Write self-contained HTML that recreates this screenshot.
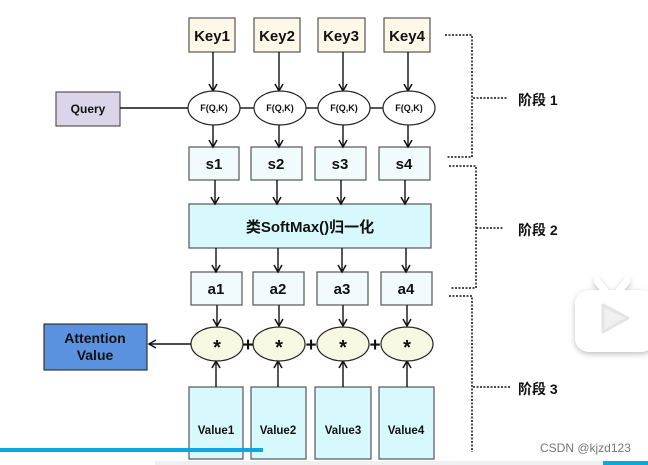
<!DOCTYPE html>
<html><head><meta charset="utf-8"><style>
html,body{margin:0;padding:0;background:#fff;}
svg{display:block;font-family:"Liberation Sans","Noto Sans CJK SC",sans-serif;font-weight:bold;}
</style></head><body>
<svg width="648" height="465" viewBox="0 0 648 465" xmlns="http://www.w3.org/2000/svg">
<defs>
<marker id="ar" markerWidth="10" markerHeight="10" refX="8" refY="5" orient="auto" markerUnits="userSpaceOnUse">
<path d="M1,1 L8,5 L1,9" fill="none" stroke="#111" stroke-width="1.5"/>
</marker>
<filter id="sh"><feDropShadow dx="0" dy="2" stdDeviation="3" flood-color="#000" flood-opacity="0.25"/></filter>
</defs>
<g stroke="#555" stroke-width="1.2">
<!-- keys -->
<rect x="189" y="18" width="46" height="34" fill="#fdf8e8"/>
<rect x="254" y="18" width="46" height="34" fill="#fdf8e8"/>
<rect x="318" y="18" width="47" height="34" fill="#fdf8e8"/>
<rect x="384" y="18" width="46" height="34" fill="#fdf8e8"/>
<!-- query -->
<rect x="56" y="92" width="64" height="34" fill="#dcd5ea"/>
<!-- s -->
<rect x="189" y="147" width="50" height="33" fill="#f1fbfe"/>
<rect x="251" y="147" width="51" height="33" fill="#f1fbfe"/>
<rect x="315" y="147" width="51" height="33" fill="#f1fbfe"/>
<rect x="379" y="147" width="51" height="33" fill="#f1fbfe"/>
<rect x="189" y="204" width="242" height="44" fill="#d7f8fd"/>
<rect x="191" y="272" width="51" height="33" fill="#f1fbfe"/>
<rect x="253" y="272" width="51" height="33" fill="#f1fbfe"/>
<rect x="317" y="272" width="51" height="33" fill="#f1fbfe"/>
<rect x="381" y="272" width="51" height="33" fill="#f1fbfe"/>
<rect x="44" y="324" width="103" height="46" fill="#5a92e0" stroke="#333"/>
<rect x="189" y="387" width="54" height="72" fill="#d7f8fd"/>
<rect x="251" y="387" width="55" height="72" fill="#d7f8fd"/>
<rect x="315" y="387" width="56" height="72" fill="#d7f8fd"/>
<rect x="379" y="387" width="55" height="72" fill="#d7f8fd"/>
</g>
<g stroke="#111" stroke-width="1.4" fill="none">
<line x1="120" y1="108" x2="188" y2="108"/>
<line x1="240" y1="108" x2="254" y2="108"/>
<line x1="306" y1="108" x2="318" y2="108"/>
<line x1="370" y1="108" x2="383" y2="108"/>
<!-- key->F -->
<line x1="213" y1="52" x2="213" y2="91" marker-end="url(#ar)"/>
<line x1="279" y1="52" x2="279" y2="91" marker-end="url(#ar)"/>
<line x1="343" y1="52" x2="343" y2="91" marker-end="url(#ar)"/>
<line x1="408" y1="52" x2="408" y2="91" marker-end="url(#ar)"/>
<line x1="213" y1="125" x2="213" y2="147" marker-end="url(#ar)"/>
<line x1="279" y1="125" x2="279" y2="147" marker-end="url(#ar)"/>
<line x1="343" y1="125" x2="343" y2="147" marker-end="url(#ar)"/>
<line x1="408" y1="125" x2="408" y2="147" marker-end="url(#ar)"/>
<line x1="215" y1="180" x2="215" y2="204" marker-end="url(#ar)"/>
<line x1="277" y1="180" x2="277" y2="204" marker-end="url(#ar)"/>
<line x1="341" y1="180" x2="341" y2="204" marker-end="url(#ar)"/>
<line x1="405" y1="180" x2="405" y2="204" marker-end="url(#ar)"/>
<line x1="216" y1="248" x2="216" y2="272" marker-end="url(#ar)"/>
<line x1="278" y1="248" x2="278" y2="272" marker-end="url(#ar)"/>
<line x1="342" y1="248" x2="342" y2="272" marker-end="url(#ar)"/>
<line x1="406" y1="248" x2="406" y2="272" marker-end="url(#ar)"/>
<line x1="217" y1="305" x2="217" y2="326" marker-end="url(#ar)"/>
<line x1="279" y1="305" x2="279" y2="326" marker-end="url(#ar)"/>
<line x1="343" y1="305" x2="343" y2="326" marker-end="url(#ar)"/>
<line x1="407" y1="305" x2="407" y2="326" marker-end="url(#ar)"/>
<line x1="216" y1="387" x2="216" y2="361" marker-end="url(#ar)"/>
<line x1="278" y1="387" x2="278" y2="361" marker-end="url(#ar)"/>
<line x1="343" y1="387" x2="343" y2="361" marker-end="url(#ar)"/>
<line x1="407" y1="387" x2="407" y2="361" marker-end="url(#ar)"/>
<line x1="192" y1="344" x2="149" y2="344" marker-end="url(#ar)"/>
</g>
<g stroke="#222" stroke-width="1.2">
<ellipse cx="214" cy="108" rx="26" ry="17" fill="#fff"/>
<ellipse cx="280" cy="108" rx="26" ry="17" fill="#fff"/>
<ellipse cx="344" cy="108" rx="26" ry="17" fill="#fff"/>
<ellipse cx="409" cy="108" rx="26" ry="17" fill="#fff"/>
<ellipse cx="217" cy="344" rx="26" ry="17" fill="#f6f8e2"/>
<ellipse cx="279" cy="344" rx="26" ry="17" fill="#f6f8e2"/>
<ellipse cx="343" cy="344" rx="26" ry="17" fill="#f6f8e2"/>
<ellipse cx="407" cy="344" rx="26" ry="17" fill="#f6f8e2"/>
</g>
<g font-size="19" fill="#111" text-anchor="middle">
<text x="248" y="351">+</text><text x="311" y="351">+</text><text x="375" y="351">+</text>
</g>
<g fill="#111" text-anchor="middle">
<g font-size="15"><text x="212" y="41">Key1</text><text x="277" y="41">Key2</text><text x="341" y="41">Key3</text><text x="407" y="41">Key4</text></g>
<text x="88" y="113" font-size="12">Query</text>
<g font-size="9"><text x="214" y="111">F(Q,K)</text><text x="280" y="111">F(Q,K)</text><text x="344" y="111">F(Q,K)</text><text x="409" y="111">F(Q,K)</text></g>
<g font-size="15"><text x="214" y="169">s1</text><text x="276" y="169">s2</text><text x="340" y="169">s3</text><text x="404" y="169">s4</text></g>
<text x="310" y="232" font-size="15">类SoftMax()归一化</text>
<g font-size="15"><text x="216" y="294">a1</text><text x="278" y="294">a2</text><text x="342" y="294">a3</text><text x="406" y="294">a4</text></g>
<g font-size="20"><text x="217" y="354">*</text><text x="279" y="354">*</text><text x="343" y="354">*</text><text x="407" y="354">*</text></g>
<g font-size="14"><text x="95" y="343">Attention</text><text x="95" y="360">Value</text></g>
<g font-size="11.5"><text x="216" y="434">Value1</text><text x="278" y="434">Value2</text><text x="343" y="434">Value3</text><text x="406" y="434">Value4</text></g>
</g>
<g stroke="#111" stroke-width="1.5" stroke-dasharray="2,1.5" fill="none">
<polyline points="445,35 472,35 472,157 447,157"/>
<line x1="473" y1="98" x2="507" y2="98"/>
<polyline points="449,166 476,166 476,288 451,288"/>
<line x1="476" y1="228" x2="504" y2="228"/>
<polyline points="449,296 472,296 472,452"/>
<line x1="473" y1="387" x2="511" y2="387"/>
</g>
<g font-size="14" fill="#111">
<text x="518" y="105">阶段 1</text>
<text x="518" y="235">阶段 2</text>
<text x="518" y="394">阶段 3</text>
</g>
<text x="540" y="452" font-size="12" font-weight="normal" fill="#777">CSDN @kjzd123</text>
<!-- play icon -->
<g filter="url(#sh)">
<path d="M597,281 L605,291 M627,281 L619,291" stroke="#fff" stroke-width="7" stroke-linecap="round"/>
<rect x="575" y="290" width="80" height="62" rx="14" fill="#fff"/>
</g>
<path d="M603,305 L603,332 L628,318 Z" fill="#f0f0f0" stroke="#e4e4e4" stroke-width="3" stroke-linejoin="round"/>
<rect x="0" y="448" width="263" height="4" fill="#0ea5e3"/>
<rect x="155" y="461" width="493" height="4" fill="#eef0f2"/>
<rect x="603" y="461" width="45" height="4" fill="#0ea5e3"/>
</svg>
</body></html>
